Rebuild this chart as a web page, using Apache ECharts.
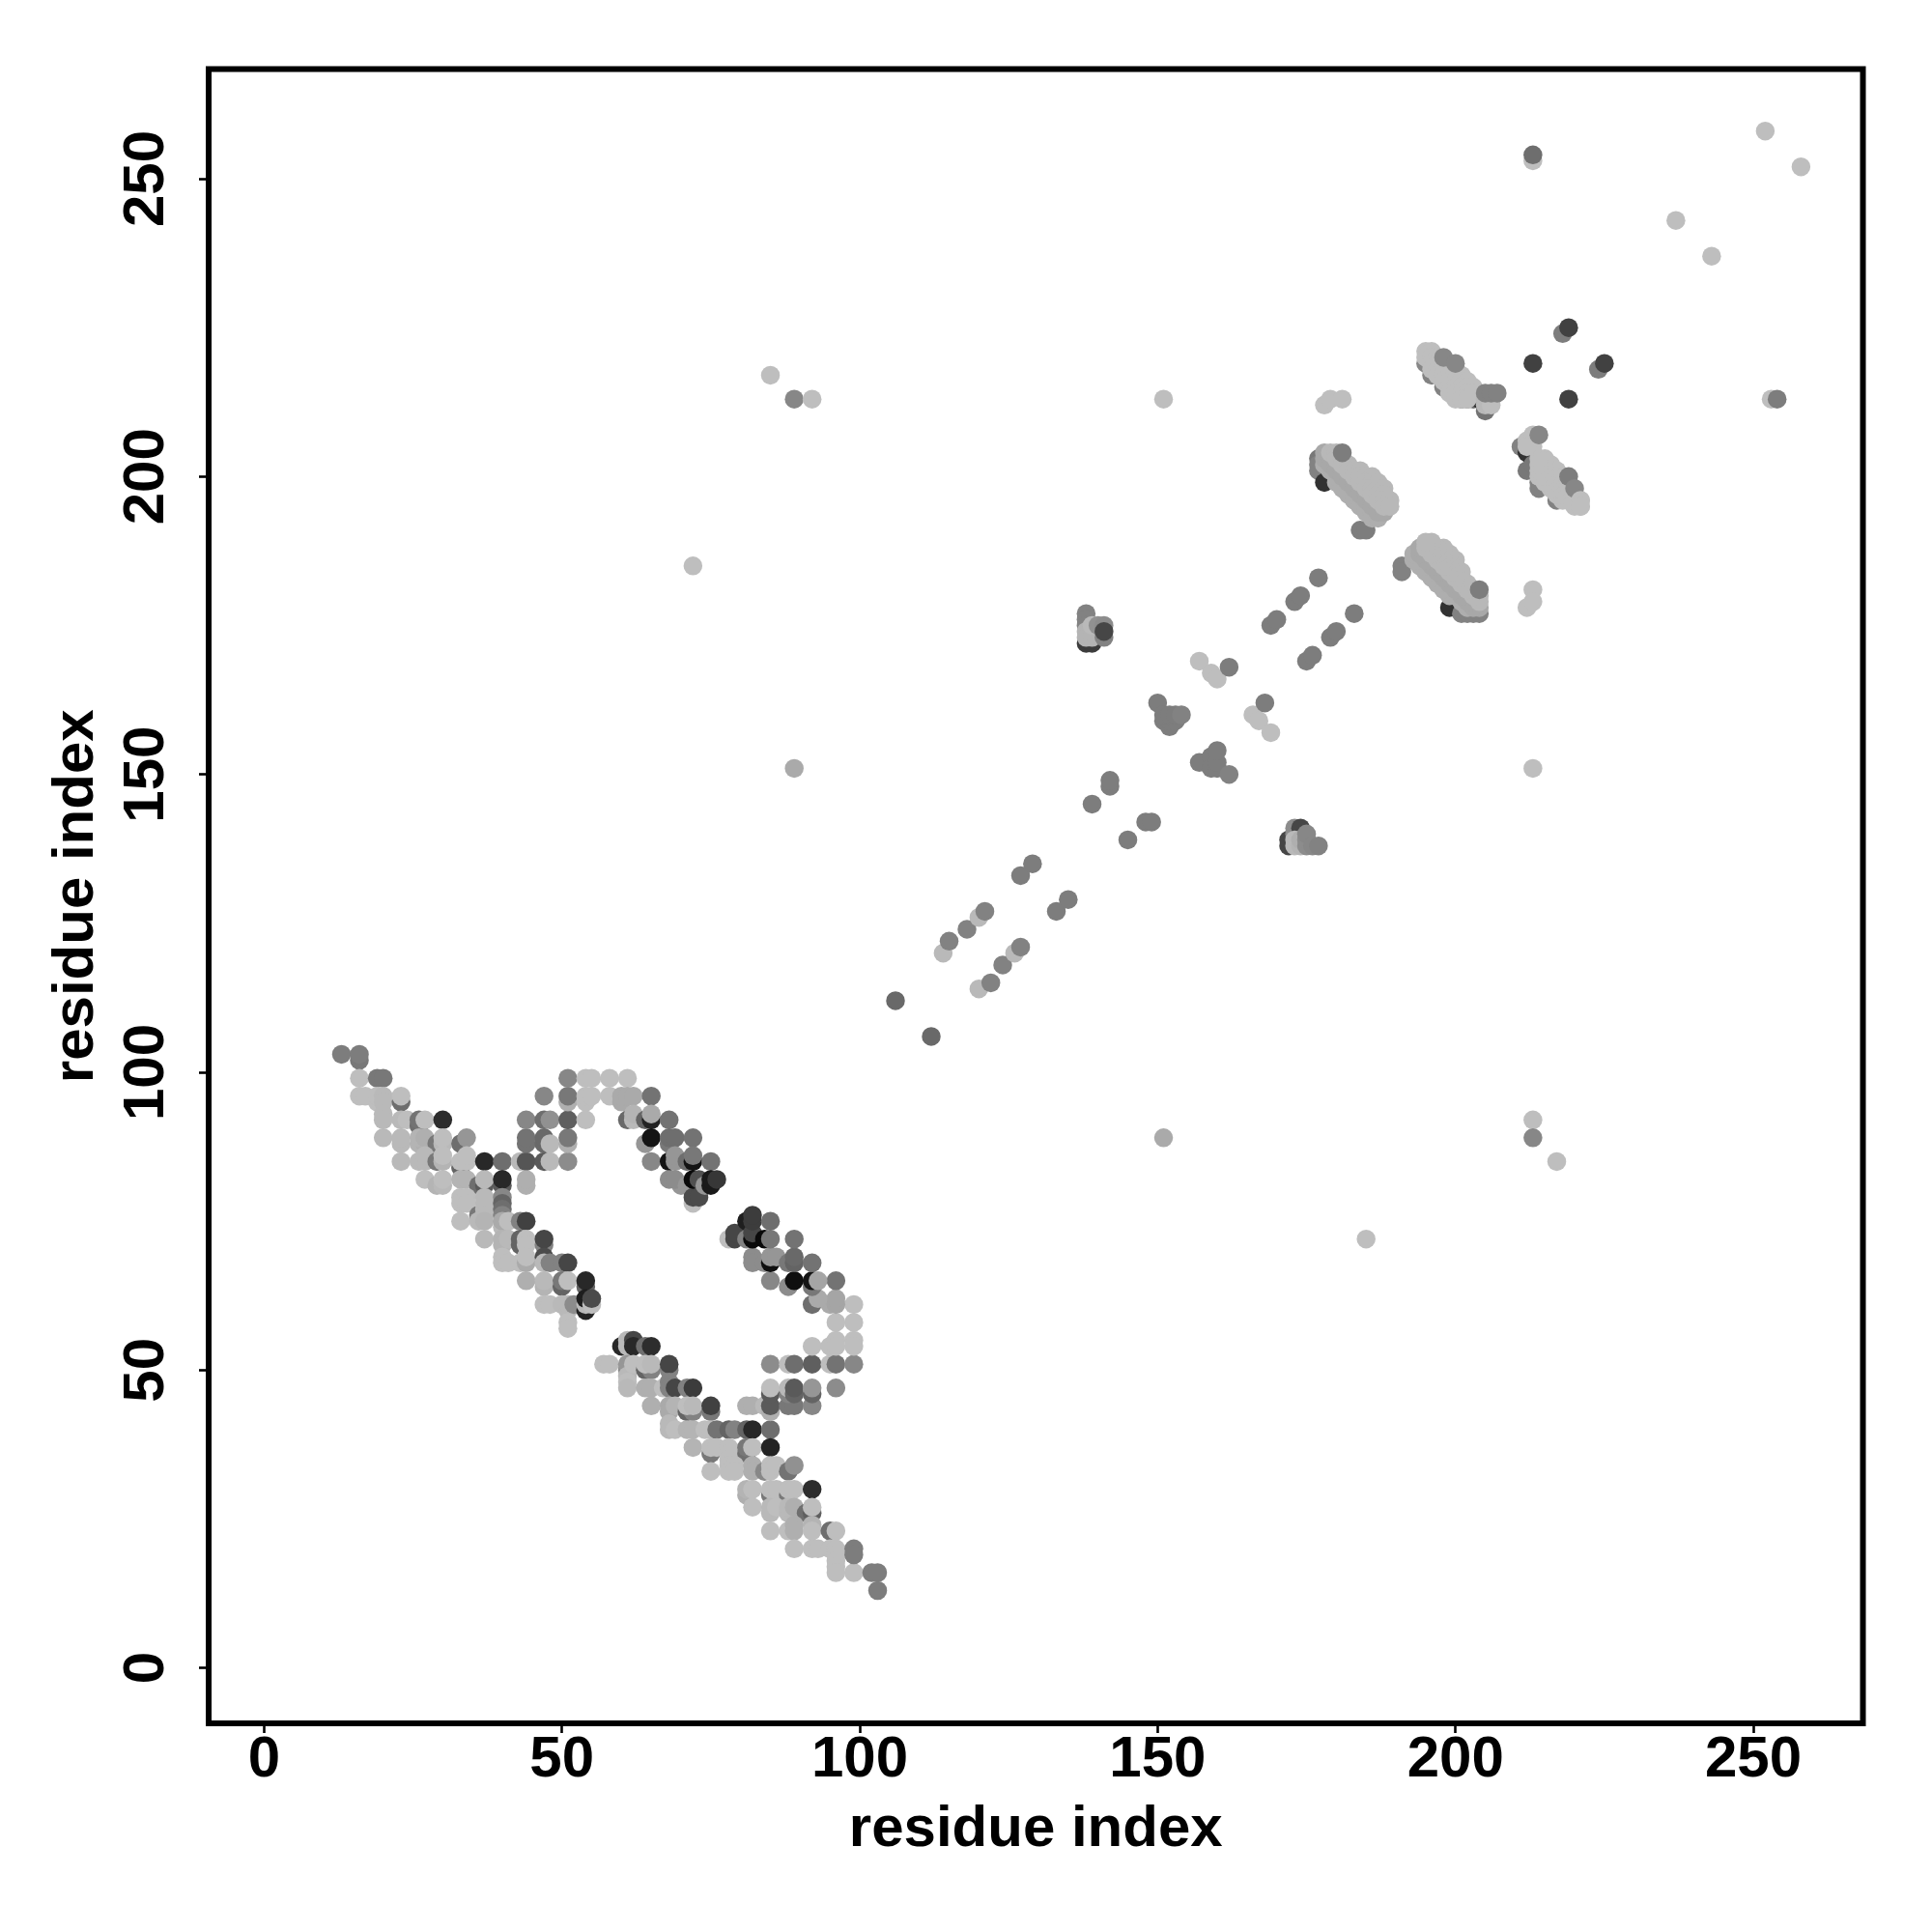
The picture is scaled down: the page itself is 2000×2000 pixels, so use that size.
<!DOCTYPE html>
<html><head><meta charset="utf-8">
<script src="https://cdn.jsdelivr.net/npm/echarts@6/dist/echarts.min.js"></script>
<style>html,body{margin:0;background:#fff}#c{width:2000px;height:2000px}</style></head>
<body><div id="c"></div>
<script>
const tickValues=[0,50,100,150,200,250];
const axisTitle='residue index';
// Each contact: [residue x, residue y, gray level 0-255], in drawing order.
const lowerArm=[
[60,54,40],[61,55,185],[61,54,185],[62,55,70],[62,54,40],[64,54,110],[65,54,45],
[57,51,190],[58,51,190],[61,50,140],[61,51,150],[61,49,185],[62,51,190],[61,48,190],[61,47,185],
[64,50,100],[65,50,130],[64,51,190],[65,51,185],[68,50,130],[68,51,70],
[64,47,175],[65,47,175],[67,47,190],[68,48,130],[68,47,130],[69,47,70],[71,47,130],[72,47,60],
[65,44,175],[68,44,170],[68,43,170],[69,44,180],[71,43,100],[72,43,130],[71,44,190],[72,44,185],[75,43,120],[75,44,65],
[68,41,185],[68,40,185],[69,40,190],[71,40,180],[72,40,180],[74,40,190],[75,40,190],[76,40,115],[78,40,100],[79,40,130],[81,40,100],[82,40,40],[85,40,110],
[72,37,180],[75,36,120],[75,37,190],[76,37,190],[78,37,190],[78,36,190],[78,35,190],[81,36,110],[81,37,120],[82,37,190],[85,37,35],
[75,33,190],[78,34,190],[78,33,190],[79,34,190],[79,33,190],[82,34,175],[82,33,175],[84,33,135],[85,34,190],[85,33,190],[86,34,190],[88,33,115],[89,34,145],
[81,29,175],[81,30,180],[82,30,190],[85,29,120],[85,30,190],[86,30,190],[88,29,120],[88,30,190],[89,30,190],[92,30,45],
[82,27,190],[85,26,185],[85,27,185],[86,27,190],[88,26,185],[88,27,185],[89,27,175],[91,26,110],[92,26,95],[92,27,190],
[85,23,190],[88,23,190],[89,24,175],[89,23,175],[92,24,180],[92,23,190],[95,23,110],[96,23,190],
[89,20,190],[92,20,190],[93,20,190],[95,20,190],[96,20,190],[96,19,190],[96,18,190],[96,17,190],[96,16,190],[99,16,190],[99,20,125],[99,19,125],[102,16,125],[103,16,125],[103,13,125],
[81,44,175],[82,44,175],[84,44,185],[85,43,175],[85,44,90],[88,44,120],[89,44,120],[92,44,135],
[85,46,90],[85,47,190],[88,46,130],[88,47,185],[89,46,100],[89,47,90],[92,46,100],[92,47,150],[96,47,140],
[85,51,140],[88,51,190],[89,51,110],[92,51,95],[95,51,190],[96,51,115],[99,51,135],
[92,54,190],[95,54,190],[96,55,190],[96,54,190],[99,55,190],[99,54,190],[96,58,190],[99,58,190],
[99,61,190],[95,61,170],[96,61,165],[96,62,165],[92,61,110],[93,62,170],[96,65,115],[92,64,120],[92,65,20],[93,65,165],
[85,65,135],[88,64,140],[89,65,15],
[82,69,140],[82,68,140],[84,68,140],[85,68,15],[85,69,150],[86,69,150],[88,68,120],[89,68,100],[89,69,105],[92,68,115],
[78,72,190],[79,72,70],[79,73,70],[81,72,130],[81,75,30],[82,72,10],[82,73,70],[84,72,10],[85,72,120],[89,72,115],[82,75,60],[82,76,60],[85,75,110]
];
const upperArm=[
[13,103,125],[16,102,120],[16,103,125],[16,99,190],[19,99,120],[20,99,120],[16,96,190],[17,96,190],[19,95,190],[19,96,190],[20,96,185],[20,95,185],[23,95,110],[23,96,190],
[20,93,185],[20,92,185],[23,92,185],[24,92,190],[26,91,110],[26,92,115],[27,92,190],[30,92,45],
[20,89,185],[23,88,185],[23,89,185],[26,88,180],[27,88,175],[26,89,180],[27,89,175],[29,88,120],[30,88,185],[30,89,190],[33,88,110],[34,89,150],
[23,85,185],[26,85,185],[27,85,185],[27,86,185],[29,85,120],[30,85,180],[30,86,190],[33,84,100],[33,85,190],[34,85,190],[34,86,190],[37,85,40],[40,85,110],
[43,85,185],[44,85,85],[47,85,90],[48,85,185],[51,85,140],[44,88,115],[44,89,115],[47,88,105],[47,89,105],[48,88,185],[51,88,175],[51,89,120],
[44,92,135],[47,92,110],[48,92,145],[51,92,95],[54,92,190],[47,96,135],[51,95,175],[51,96,120],[54,95,190],[54,96,190],[55,96,190],[58,96,190],
[51,99,135],[54,99,190],[55,99,190],[58,99,190],[61,99,190],
[27,82,190],[29,81,180],[30,81,185],[30,82,190],[33,82,180],[34,82,180],[36,81,110],[37,81,90],[37,82,185],[40,81,90],[40,82,40],[44,81,175],[44,82,175],
[33,79,190],[33,78,190],[34,79,190],[34,78,190],[36,76,120],[37,79,185],[37,78,185],[37,77,185],[37,76,185],[40,79,135],[40,78,100],[40,77,110],[40,76,130],
[33,75,190],[36,75,185],[37,75,180],[40,74,185],[40,75,170],[41,75,190],[43,75,130],[44,75,65],
[37,72,185],[40,72,180],[40,71,180],[41,72,185],[43,71,100],[43,72,100],[44,72,190],[44,71,190],[47,71,130],[47,72,70],
[40,69,190],[40,68,190],[41,68,190],[43,68,190],[44,68,170],[44,69,190],[47,69,75],[47,68,185],[48,68,130],[50,68,130],[51,68,70],
[44,65,175],[47,64,180],[47,65,185],[50,64,100],[50,65,120],[51,65,190],[54,64,100],[54,65,40],
[47,61,190],[48,61,190],[50,61,185],[51,60,185],[51,61,185],[52,61,140],[54,60,35],[54,61,185],[54,62,30],[55,61,190],[55,62,75],[51,58,190],[51,57,190],
[60,95,170],[60,96,170],[61,96,170],[62,96,170],[65,96,115],[61,92,105],[62,92,185],[62,93,180],[64,92,100],[65,92,35],[65,93,170],[68,92,115],
[64,88,150],[65,89,20],[68,88,120],[68,89,110],[69,89,110],[72,89,115],
[65,85,135],[68,85,20],[69,85,150],[69,86,150],[71,85,110],[72,85,20],[72,86,120],[75,85,115],
[72,78,190],[70,81,150],[68,82,140],[69,82,140],[71,81,150],[72,79,75],[73,79,75],[72,82,10],[73,82,80],[74,81,150],[75,81,25],[75,82,25],[76,82,55]
];
const diagonalContacts=[
[106,112,105],[112,106,105],[114,120,185],[115,122,130],[118,124,130],[120,126,185],[121,127,130],
[120,114,185],[122,115,130],[124,118,130],[126,120,185],[127,121,130],
[127,133,125],[129,135,125],[133,127,125],[135,129,125],
[139,145,125],[142,148,125],[142,149,125],[145,139,125],[148,142,125],[149,142,125],
[150,162,125],[152,158,125],[151,159,125],[152,159,125],[153,159,125],[151,160,125],[152,160,125],[153,160,125],[154,160,130],
[158,152,125],[157,152,125],[159,153,125],[159,151,125],[160,151,125],[160,152,125],[160,154,125],[162,150,130],
[157,169,190],[159,167,190],[160,166,190],[162,168,125],
[166,160,190],[167,159,190],[168,162,125],[169,157,190],
[169,175,125],[170,176,125],[173,179,125],[174,180,125],[177,183,125],
[175,169,125],[176,170,125],[179,173,125],[180,174,125],[183,177,125]
];
const clusterLeft=[[138,172,60],[139,172,60],[138,177,130],[138,176,130],[138,175,130],[138,174,180],[138,173,180],[139,173,180],[139,174,180],[139,175,185],[140,175,145],[141,173,130],[141,175,140],[141,174,70]];
const clusterRight=[[172,138,70],[172,139,70],[173,140,140],[173,141,140],[174,141,70],[173,139,185],[173,138,185],[174,138,180],[174,139,175],[175,138,140],[175,139,140],[175,140,135],[176,138,135],[177,138,130]];
const farContacts=[
[252,258,190],[258,252,190],[237,243,190],[243,237,190],[213,253,190],[213,254,110],
[213,92,190],[213,89,135],[217,85,190],[185,72,190],[72,185,190],[85,217,190],[89,213,135],[92,213,190],
[151,213,190],[151,89,170],[89,151,170],[213,151,190],[253,213,190],[254,213,125],
[213,181,190],[212,178,190],[213,179,190],
[213,219,65],[218,224,125],[219,225,65],[224,218,125],[225,219,65],[219,213,65],
[178,212,190],[179,213,190],[181,213,190]
];
const bandAUnder=[[177,203,120],[177,202,130],[177,201,130],[178,199,50],[184,191,125],[185,191,125]];
const bandAEdge=[[180,199],[181,199],[181,198],[182,198],[182,197],[183,197],[183,196],[184,196],[184,195],[185,195],[185,194],[186,194],[186,193],[187,193],[180,200],[179,201],[178,202]];
const bandAMid=[[178,204],[178,203],[179,203],[179,202],[180,202],[180,201],[181,201],[181,200],[182,200],[182,199],[183,199],[183,198],[184,198],[184,197],[185,197],[185,196],[186,196],[186,195],[187,195],[187,194],[188,194]];
const bandATop=[[179,204],[180,204],[180,203],[181,203],[181,202],[182,202],[182,201],[183,201],[184,201],[183,200],[184,200],[185,200],[186,200],[184,199],[185,199],[186,199],[187,199],[185,198],[186,198],[187,198],[188,198],[186,197],[187,197],[188,197],[187,196],[188,196],[189,196],[188,195],[189,195]];
const bandBUnder=[[191,185,130],[191,184,130],[199,178,50],[201,177,130],[202,177,130],[203,177,130],[204,177,130]];
const bandBEdge=[[199,180],[199,181],[198,181],[198,182],[197,182],[197,183],[196,183],[196,184],[195,184],[195,185],[194,185],[194,186],[193,186],[193,187],[200,180],[201,179],[202,178]];
const bandBMid=[[204,178],[203,178],[203,179],[202,179],[202,180],[201,180],[201,181],[200,181],[200,182],[199,182],[199,183],[198,183],[198,184],[197,184],[197,185],[196,185],[196,186],[195,186],[195,187],[194,187],[194,188]];
const bandBTop=[[204,179],[204,180],[203,180],[203,181],[202,181],[202,182],[201,182],[201,183],[201,184],[200,183],[200,184],[200,185],[200,186],[199,184],[199,185],[199,186],[199,187],[198,185],[198,186],[198,187],[198,188],[197,186],[197,187],[197,188],[196,187],[196,188],[196,189],[195,188],[195,189],[204,181,125]];
const bandCUnder=[[195,219,135],[196,217,130],[198,215,130],[201,213,120],[202,213,120],[203,213,110],[204,213,50],[205,211,115]];
const bandCLight=[[195,221],[196,221],[195,220],[196,220],[197,220],[196,219],[197,219],[198,219],[196,218],[197,218],[198,218],[199,218],[200,218],[197,217],[198,217],[199,217],[200,217],[201,217],[198,216],[199,216],[200,216],[201,216],[202,216],[199,215],[200,215],[201,215],[202,215],[203,215],[199,214],[200,214],[201,214],[202,214],[203,214],[200,213],[201,213],[202,213]];
const bandCTop=[[198,220,135],[200,219,135],[205,213,185],[206,213,185],[205,212,185],[206,212,190],[205,214,130],[206,214,130],[207,214,130]];
const bandDUnder=[[211,205,130],[212,204,50],[213,204,50],[212,201,120],[213,202,120],[214,199,130],[214,198,130],[217,196,130],[219,196,125],[218,197,125]];
const bandDLight=[[221,195],[221,196],[220,195],[220,196],[220,197],[219,196],[219,197],[219,198],[218,196],[218,197],[218,198],[218,199],[218,200],[217,197],[217,198],[217,199],[217,200],[217,201],[216,198],[216,199],[216,200],[216,201],[216,202],[215,199],[215,200],[215,201],[215,202],[215,203],[214,200],[214,201],[214,202],[214,203],[213,205],[212,206],[213,207],[212,205]];
const bandDTop=[[219,200,125],[220,198,135],[221,196,190],[221,195,190],[214,207,135]];

const shade=(arr,g)=>arr.map(p=>[p[0],p[1],p.length>2?p[2]:g]);
const groups=[
 lowerArm,upperArm,diagonalContacts,clusterLeft,clusterRight,farContacts,
 bandAUnder,shade(bandAEdge,174),shade(bandAMid,168),shade(bandATop,184),[[181,204,125]],
 bandBUnder,shade(bandBEdge,174),shade(bandBMid,168),shade(bandBTop,184),
 bandCUnder,shade(bandCLight,190),bandCTop,
 bandDUnder,shade(bandDLight,190),bandDTop
];
const chart=echarts.init(document.getElementById('c'),null,{renderer:'canvas'});
const font='"Liberation Sans"';
const axisCommon=(labelRotate,labelMargin,nameGap,nameRotate)=>({
 type:'value',min:-9.3,max:268.4,splitLine:{show:false},
 axisLine:{show:false,onZero:false},
 axisTick:{show:true,customValues:tickValues,length:10,inside:false,lineStyle:{color:'#000',width:2.6}},
 axisLabel:{show:true,customValues:tickValues,rotate:labelRotate,margin:labelMargin,fontFamily:font,fontWeight:'bold',fontSize:60,color:'#000',showMinLabel:true,showMaxLabel:true},
 name:axisTitle,nameLocation:'middle',nameGap:nameGap,nameRotate:nameRotate,
 nameTextStyle:{fontFamily:font,fontWeight:'bold',fontSize:60,color:'#000'}
});
chart.setOption({
 animation:false,backgroundColor:'#fff',
 grid:{left:216,top:71.5,width:1712.5,height:1712.5,show:true,borderColor:'#000',borderWidth:6,backgroundColor:'transparent',containLabel:false},
 xAxis:axisCommon(0,8,80,0),
 yAxis:axisCommon(90,34,107,90),
 series:groups.map(g=>({type:'scatter',symbol:'circle',symbolSize:19.5,silent:true,data:g,
  itemStyle:{opacity:1,color:p=>{const v=p.value[2];return `rgb(${v},${v},${v})`;}}}))
});
</script></body></html>
